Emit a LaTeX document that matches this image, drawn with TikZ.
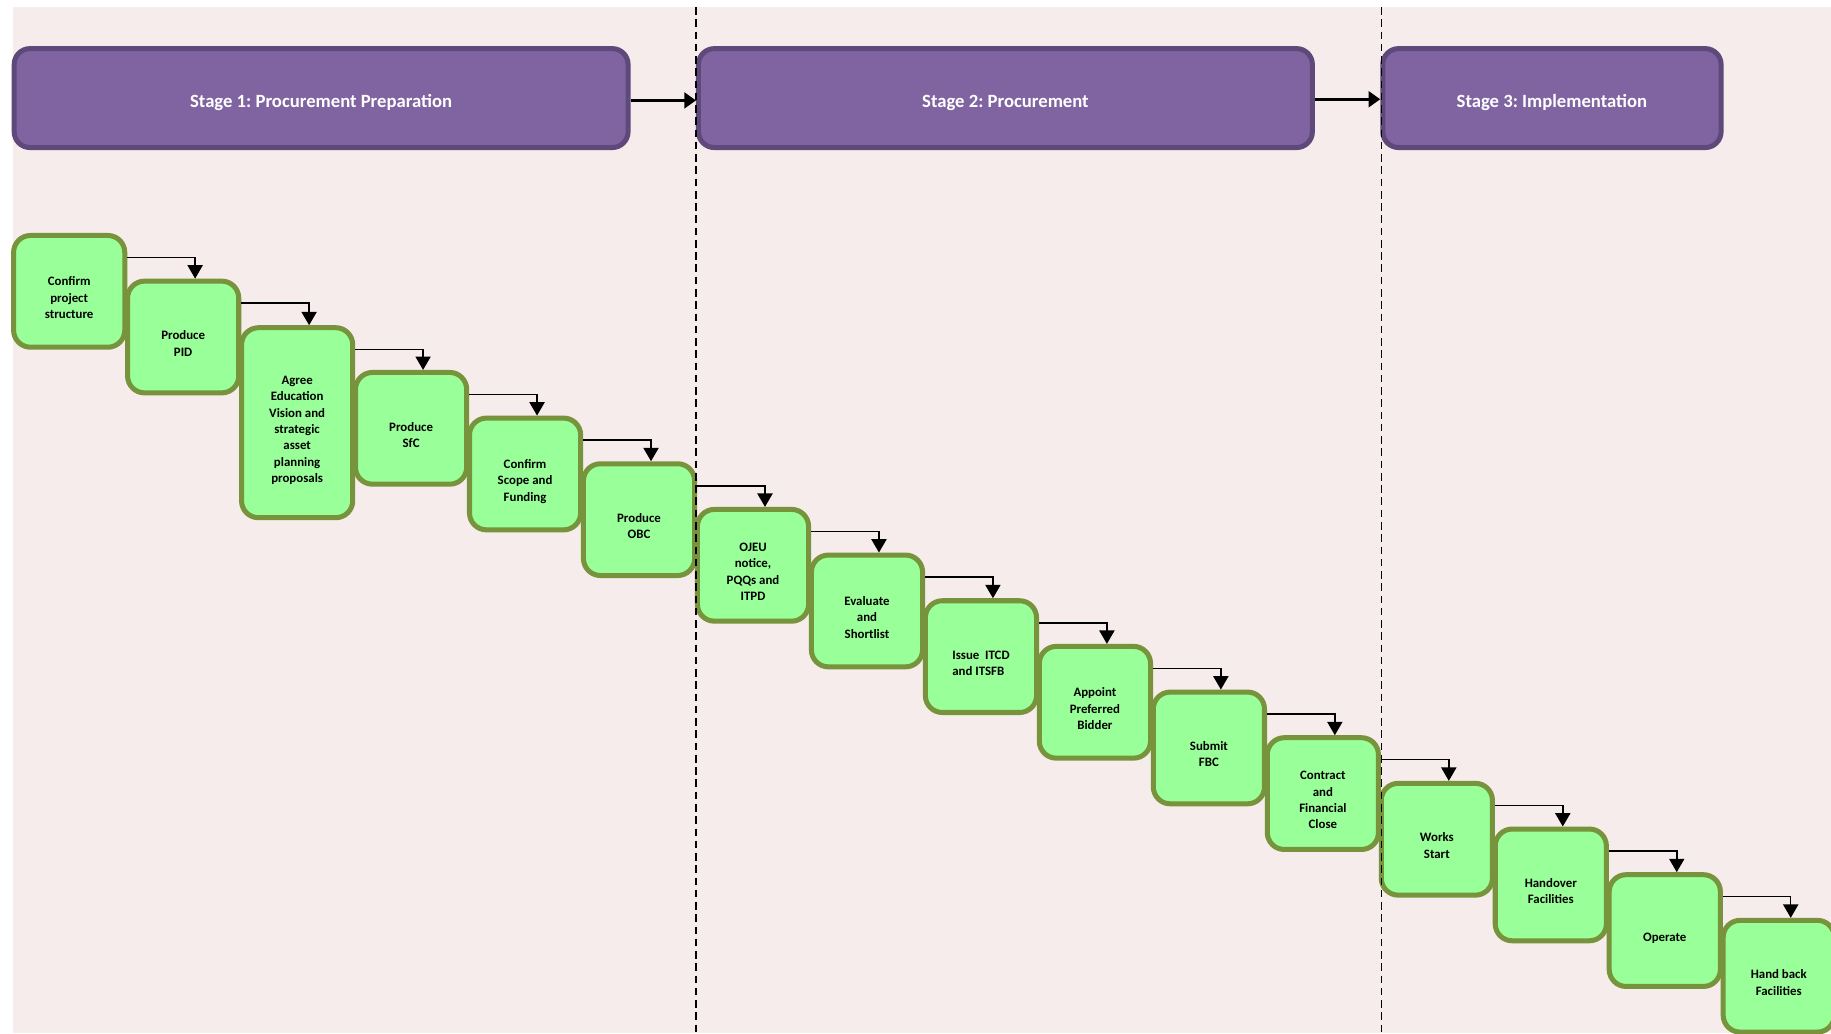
\documentclass[tikz,border=0pt]{standalone}
\usepackage{fontspec}
\setmainfont{Carlito}
\usetikzlibrary{arrows.meta,calc}
\frenchspacing

\definecolor{sheet}{HTML}{F5ECEB}
\definecolor{stagefill}{HTML}{8064A2}
\definecolor{stageline}{HTML}{5F497A}
\definecolor{taskfill}{HTML}{99FF99}
\definecolor{taskline}{HTML}{77933C}

% centred lines of a step label, set a little below the box centre
\newcommand{\tasktext}[1]{\raisebox{-6.5pt}[\height][\depth]{\begin{tabular}{@{}c@{}}#1\end{tabular}}}

\begin{document}
\begin{tikzpicture}[x=1pt,y=-1pt,
  stagebox/.style={draw=stageline, fill=stagefill, line width=4.3pt,
    rounded corners=13.5pt, inner sep=0pt, minimum height=84.7pt,
    text=white, font=\fontsize{16}{19}\selectfont\bfseries},
  taskbox/.style={draw=taskline, fill=taskfill, line width=4.3pt,
    rounded corners=14.5pt, inner sep=0pt, minimum width=95.2pt,
    minimum height=95.7pt, text=black,
    font=\fontsize{11}{14}\selectfont\bfseries},
  tallbox/.style={taskbox, minimum height=162.7pt},
  stagearrow/.style={line width=2.3pt, -{Triangle[width=13.5pt,length=10pt]}},
  stepline/.style={line width=1.3pt, -{Triangle[width=13pt,length=11.5pt]}},
  divider/.style={line width=1.5pt, dash pattern=on 6.5pt off 4pt}]

\useasboundingbox (0,0) rectangle (1568,885);
\clip (0,0) rectangle (1568,885);
\fill[sheet] (11,6) rectangle (1568,885);

% stage headers
\node[stagebox, minimum width=525.7pt] (s1) at (275,84) {\raisebox{-4pt}[\height][\depth]{Stage 1: Procurement Preparation}};
\node[stagebox, minimum width=525.7pt] (s2) at (861,84) {\raisebox{-4pt}[\height][\depth]{Stage 2: Procurement}};
\node[stagebox, minimum width=289.7pt] (s3) at (1329,84) {\raisebox{-4pt}[\height][\depth]{Stage 3: Implementation}};
\draw[stagearrow] ($(s1.east)+(0,2)$) -- ($(s2.west)+(0,2)$);
\draw[stagearrow] ($(s2.east)+(0,1)$) -- ($(s3.west)+(0,1)$);

% task steps, stepping down to the right
\node[taskbox] (b0)  at (59.25,249.5)  {\tasktext{Confirm\\project\\structure}};
\node[taskbox] (b1)  at (156.85,288.6) {\tasktext{Produce\\PID}};
\node[tallbox] (b2)  at (254.45,362)   {\tasktext{Agree\\Education\\Vision and\\strategic\\asset\\planning\\proposals}};
\node[taskbox] (b3)  at (352.05,366.8) {\tasktext{Produce\\SfC}};
\node[taskbox] (b4)  at (449.65,405.9) {\tasktext{Confirm\\Scope and\\Funding}};
\node[taskbox] (b5)  at (547.25,445.0) {\tasktext{Produce\\OBC}};
\node[taskbox] (b6)  at (644.85,484.1) {\tasktext{OJEU\\notice,\\PQQs and\\ITPD}};
\node[taskbox] (b7)  at (742.45,523.2) {\tasktext{Evaluate\\and\\Shortlist}};
\node[taskbox] (b8)  at (840.05,562.3) {\raisebox{-6.5pt}[\height][\depth]{\begin{tabular}{@{}l@{}}Issue~~ITCD\\and ITSFB\end{tabular}}};
\node[taskbox] (b9)  at (937.65,601.4) {\tasktext{Appoint\\Preferred\\Bidder}};
\node[taskbox] (b10) at (1035.25,640.5){\tasktext{Submit\\FBC}};
\node[taskbox] (b11) at (1132.85,679.6){\tasktext{Contract\\and\\Financial\\Close}};
\node[taskbox] (b12) at (1230.45,718.7){\tasktext{Works\\Start}};
\node[taskbox] (b13) at (1328.05,757.8){\tasktext{Handover\\Facilities}};
\node[taskbox] (b14) at (1425.65,796.9){\tasktext{Operate}};
\node[taskbox] (b15) at (1523.25,836.0){\tasktext{Hand back\\Facilities}};

% elbow connectors between consecutive steps
\foreach \a/\b in {b0/b1,b1/b2,b2/b3,b3/b4,b4/b5,b5/b6,b6/b7,b7/b8,
                   b8/b9,b9/b10,b10/b11,b11/b12,b12/b13,b13/b14,b14/b15}
  \draw[stepline] ($(\a.north east)+(0,21)$) -| ($(\b.north west)+(60,0)$);

% stage dividers
\coordinate (cutAtop) at (596,6);
\coordinate (cutAbot) at (596,885);
\coordinate (cutBtop) at (1183,6);
\coordinate (cutBbot) at (1183,885);
\draw[divider] (cutAtop) -- (cutAbot);
\draw[divider] (cutBtop) -- (cutBbot);
\end{tikzpicture}
\end{document}
